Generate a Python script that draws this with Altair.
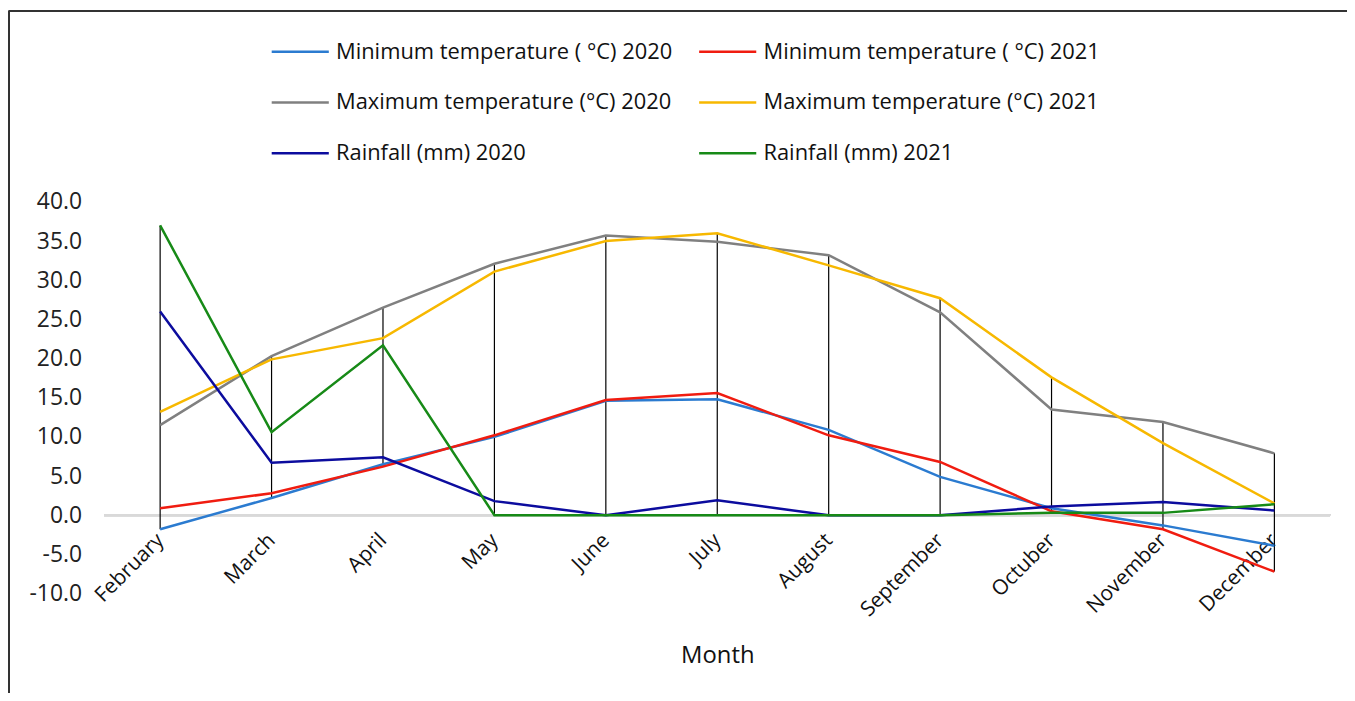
import altair as alt
import pandas as pd

months = ["February", "March", "April", "May", "June", "July", "August",
          "September", "Octuber", "November", "December"]

min_2020 = [-1.8, 2.2, 6.5, 10.0, 14.6, 14.8, 10.9, 4.9, 0.9, -1.3, -3.9]
min_2021 = [0.9, 2.8, 6.2, 10.2, 14.7, 15.6, 10.2, 6.8, 0.5, -1.8, -7.2]
max_2020 = [11.5, 20.3, 26.5, 32.1, 35.7, 34.9, 33.2, 25.9, 13.5, 11.9, 7.9]
max_2021 = [13.2, 19.9, 22.6, 31.1, 35.0, 36.0, 31.9, 27.7, 17.6, 9.2, 1.5]
rain_2020 = [26.0, 6.7, 7.4, 1.8, 0.0, 1.9, 0.0, 0.0, 1.1, 1.7, 0.6]
rain_2021 = [37.0, 10.6, 21.7, 0.0, 0.0, 0.0, 0.0, 0.0, 0.3, 0.3, 1.4]

series_names = [
    "Minimum temperature ( °C) 2020",
    "Minimum temperature ( °C) 2021",
    "Maximum temperature (°C) 2020",
    "Maximum temperature (°C) 2021",
    "Rainfall (mm) 2020",
    "Rainfall (mm) 2021",
]
series_values = [min_2020, min_2021, max_2020, max_2021, rain_2020, rain_2021]
series_colors = ["#2B7BD0", "#F01C10", "#808080", "#F7B800", "#0C0C9E", "#178A17"]

y_ticks = [-10, -5, 0, 5, 10, 15, 20, 25, 30, 35, 40]

rows = []
for name, vals in zip(series_names, series_values):
    for m, v in zip(months, vals):
        rows.append({"Month": m, "Series": name, "Value": v})
df = pd.DataFrame(rows)

FONT = "Open Sans"
W, H = 1233, 394

x_scale = alt.Scale(type="point", padding=0.5)
x_axis = alt.Axis(
    title="Month", labelAngle=-45, labelAlign="right", labelBaseline="middle",
    labelFontSize=21, labelFont=FONT, labelColor="#111", labelPadding=22,
    offset=-79, domain=False, ticks=False, grid=False,
    titleFont=FONT, titleFontSize=24, titleFontWeight="normal", titleColor="#111",
    titlePadding=24, labelOverlap=False,
)
y_scale = alt.Scale(domain=[-10, 40], nice=False, zero=False)
y_axis = alt.Axis(
    title=None, values=y_ticks, domain=False, ticks=False, grid=False,
    labelExpr="datum.value < 0 ? '-' + format(-datum.value, '.1f') : format(datum.value, '.1f')",
    labelFontSize=23, labelFont=FONT, labelColor="#222", labelPadding=23,
    labelOverlap=False,
)

lines = alt.Chart(df).mark_line(strokeWidth=2.5).encode(
    x=alt.X("Month:N", sort=months, scale=x_scale, axis=x_axis),
    y=alt.Y("Value:Q", scale=y_scale, axis=y_axis),
    color=alt.Color(
        "Series:N", sort=series_names,
        scale=alt.Scale(domain=series_names, range=series_colors),
        legend=alt.Legend(
            title=None, orient="none", legendX=167, legendY=-181, columns=2,
            direction="horizontal",
            symbolType="stroke", symbolSize=3300, symbolStrokeWidth=2.5,
            labelFont=FONT, labelFontSize=22, labelColor="#111", labelOffset=6,
            columnPadding=21, rowPadding=10, padding=0, labelLimit=500,
        ),
    ),
    order=alt.Order("Series:N"),
)

zero = alt.Chart(df).mark_rule(color="#d9d9d9", strokeWidth=2).encode(
    y=alt.datum(0, scale=y_scale, axis=y_axis)
)

hilo = alt.Chart(df).transform_aggregate(
    lo="min(Value)", hi="max(Value)", groupby=["Month"]
).mark_rule(color="black", strokeWidth=1.2).encode(
    x=alt.X("Month:N", sort=months, scale=x_scale, axis=x_axis),
    y=alt.Y("lo:Q", scale=y_scale, axis=y_axis),
    y2="hi:Q",
)

frame_top = alt.Chart(df).mark_rule(color="#333", strokeWidth=2).encode(
    x=alt.value(-96), x2=alt.value(1260), y=alt.value(-192)
)
frame_left = alt.Chart(df).mark_rule(color="#333", strokeWidth=2).encode(
    x=alt.value(-96), y=alt.value(-192), y2=alt.value(520)
)

chart = alt.layer(zero, hilo, lines, frame_top, frame_left).properties(
    width=W, height=H,
    autosize=alt.AutoSizeParams(type="none"),
    padding={"left": 97, "top": 193, "right": 17, "bottom": 98},
).configure_view(stroke=None)

chart.save("out.html", embed_options={"renderer": "svg", "actions": False})
